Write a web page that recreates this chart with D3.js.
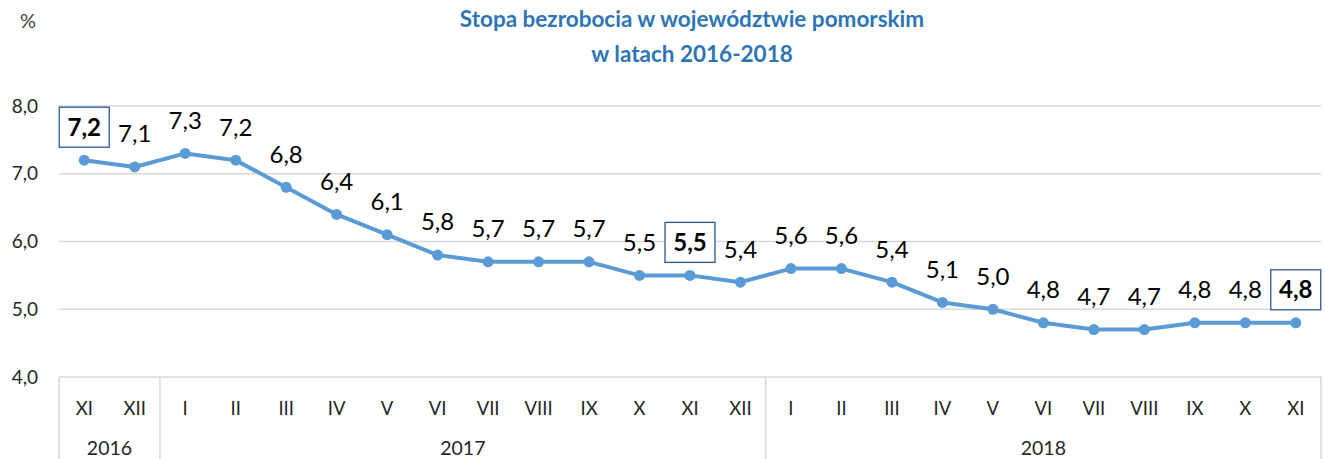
<!DOCTYPE html>
<html>
<head>
<meta charset="utf-8">
<script src="https://cdn.jsdelivr.net/npm/d3@7"></script>
<style>
  body { margin: 0; background: #fff; }
  text { font-family: Lato, "Open Sans", sans-serif; }
</style>
</head>
<body>
<script>

    var months = ["XI","XII","I","II","III","IV","V","VI","VII","VIII","IX","X","XI","XII",
                  "I","II","III","IV","V","VI","VII","VIII","IX","X","XI"];
    var years = ["2016", "2017", "2018"];
    var yearCounts = [2, 12, 11];
    var rates = [7.2, 7.1, 7.3, 7.2, 6.8, 6.4, 6.1, 5.8, 5.7, 5.7, 5.7, 5.5, 5.5, 5.4,
                 5.6, 5.6, 5.4, 5.1, 5.0, 4.8, 4.7, 4.7, 4.8, 4.8, 4.8];
    var boxed = [0, 12, 24];
    var yTicks = [4, 5, 6, 7, 8];

    var width = 1325,
        height = 459,
        plotLeft = 59,
        plotRight = 1321,
        plotTop = 106,
        plotBottom = 377

    var fmt = (d) => d.toFixed(1).replace(".", ",");

    var svg = d3.select("body")
                .append("svg")
                .attr("width", width)
                .attr("height", height);

    var x = d3.scaleBand()
              .domain(d3.range(rates.length))
              .range([plotLeft, plotRight])
              .padding(0);

    var y = d3.scaleLinear()
              .domain([4, 8])
              .range([plotBottom, plotTop]);

    // title
    svg.append("text")
       .attr("x", 692).attr("y", 27)
       .attr("text-anchor", "middle")
       .attr("font-size", 22.5).attr("font-weight", 700)
       .attr("fill", "#2E75B6")
       .text("Stopa bezrobocia w województwie pomorskim");
    svg.append("text")
       .attr("x", 692).attr("y", 62)
       .attr("text-anchor", "middle")
       .attr("font-size", 22.5).attr("font-weight", 700)
       .attr("fill", "#2E75B6")
       .text("w latach 2016-2018");

    svg.append("text")
       .attr("x", 28).attr("y", 28)
       .attr("text-anchor", "middle")
       .attr("font-size", 20)
       .attr("fill", "#404040")
       .text("%");

    // grid
    svg.selectAll(".grid")
       .data(yTicks)
       .enter()
       .append("line")
       .attr("x1", plotLeft).attr("x2", plotRight)
       .attr("y1", (d) => y(d)).attr("y2", (d) => y(d))
       .attr("stroke", "#d9d9d9")
       .attr("stroke-width", 1.5);

    svg.selectAll(".ytick")
       .data(yTicks)
       .enter()
       .append("text")
       .attr("x", 38)
       .attr("y", (d) => y(d))
       .attr("dy", "0.35em")
       .attr("text-anchor", "end")
       .attr("font-size", 19)
       .attr("fill", "#262626")
       .text(fmt);

    // category axis
    var xAxis = svg.append("g")
                   .attr("transform", "translate(0," + plotBottom + ")")
                   .call(d3.axisBottom(x).tickSize(0).tickFormat((d) => months[d]));
    xAxis.select(".domain").remove();
    xAxis.selectAll("text")
         .attr("dy", 0)
         .attr("y", 38)
         .attr("font-size", 18.5)
         .attr("font-family", "Lato, 'Open Sans', sans-serif")
         .attr("fill", "#262626");

    var starts = [0];
    yearCounts.forEach((c, i) => starts.push(starts[i] + c));
    var edges = starts.map((s) => s < rates.length ? x(s) : plotRight);

    svg.selectAll(".sep")
       .data(edges)
       .enter()
       .append("line")
       .attr("x1", (d) => d).attr("x2", (d) => d)
       .attr("y1", plotBottom).attr("y2", height)
       .attr("stroke", "#d9d9d9")
       .attr("stroke-width", 1.5);

    svg.selectAll(".year")
       .data(years)
       .enter()
       .append("text")
       .attr("x", (d, i) => (edges[i] + edges[i + 1]) / 2)
       .attr("y", 455)
       .attr("text-anchor", "middle")
       .attr("font-size", 19.5)
       .attr("fill", "#262626")
       .text((d) => d);

    // line
    var cx = (i) => x(i) + x.bandwidth() / 2;
    var line = d3.line()
                 .x((d, i) => cx(i))
                 .y((d) => y(d));

    svg.append("path")
       .datum(rates)
       .attr("d", line)
       .attr("fill", "none")
       .attr("stroke", "#5B9BD5")
       .attr("stroke-width", 4)
       .attr("stroke-linejoin", "round");

    svg.selectAll(".dot")
       .data(rates)
       .enter()
       .append("circle")
       .attr("cx", (d, i) => cx(i))
       .attr("cy", (d) => y(d))
       .attr("r", 5.5)
       .attr("fill", "#5B9BD5");

    // labels
    svg.selectAll(".boxlab")
       .data(boxed)
       .enter()
       .append("rect")
       .attr("x", (d) => cx(d) - 25)
       .attr("y", (d) => y(rates[d]) - 53)
       .attr("width", 50)
       .attr("height", 40)
       .attr("fill", "#fff")
       .attr("stroke", "#2F5597")
       .attr("stroke-width", 1.3);

    svg.selectAll(".lab")
       .data(rates)
       .enter()
       .append("text")
       .attr("x", (d, i) => cx(i))
       .attr("y", (d) => y(d) - 33)
       .attr("dy", "0.35em")
       .attr("text-anchor", "middle")
       .attr("font-size", 24)
       .attr("font-weight", (d, i) => boxed.includes(i) ? 700 : 400)
       .attr("fill", "#000")
       .text(fmt);

</script>
</body>
</html>
